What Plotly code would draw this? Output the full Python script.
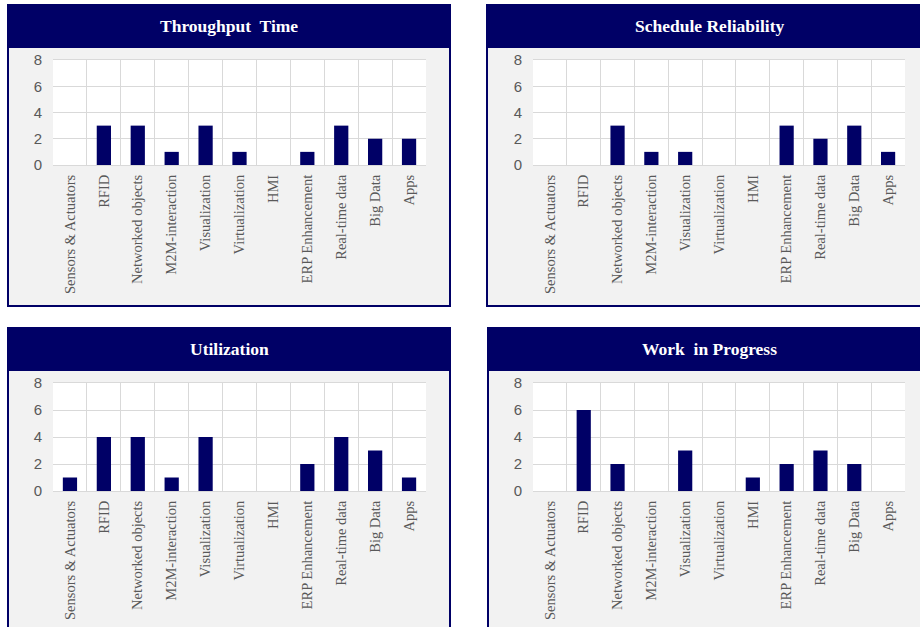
import plotly.graph_objects as go

categories = ["Sensors & Actuators", "RFID", "Networked objects", "M2M-interaction",
              "Visualization", "Virtualization", "HMI", "ERP Enhancement",
              "Real-time data", "Big Data", "Apps"]
throughput_time = [0, 3, 3, 1, 3, 1, 0, 1, 3, 2, 2]
schedule_reliability = [0, 0, 3, 1, 1, 0, 0, 3, 2, 3, 1]
utilization = [1, 4, 4, 1, 4, 0, 0, 2, 4, 3, 1]
work_in_progress = [0, 6, 2, 0, 3, 0, 1, 2, 3, 2, 0]
titles = ["Throughput  Time", "Schedule Reliability", "Utilization", "Work  in Progress"]
series = [throughput_time, schedule_reliability, utilization, work_in_progress]
y_ticks = [0, 2, 4, 6, 8]

W, H = 920, 627
NAVY = "#000066"
px = lambda x: x / W
py = lambda y: 1 - y / H

# panel geometry in pixels: (panel x0, x1, y0, y1, title bottom, plot x0, x1, plot y top, y bottom, title centre x)
panels = [
    (8, 450, 5, 306, 47, 53, 426, 60, 165, 229),
    (487, 930, 5, 306, 47, 533, 905, 60, 165, 709),
    (8, 450, 328, 650, 370, 53, 426, 383, 491, 229),
    (488, 930, 328, 650, 370, 533, 905, 383, 491, 709),
]

fig = go.Figure()
shapes = []
annotations = []
layout_axes = {}
for i, (p, vals, t) in enumerate(zip(panels, series, titles)):
    X0, X1, Y0, Y1, TB, PX0, PX1, PY0, PY1, TX = p
    n = i + 1
    xa = "x" if n == 1 else f"x{n}"
    ya = "y" if n == 1 else f"y{n}"
    shapes.append(dict(type="rect", xref="paper", yref="paper", layer="below",
                       x0=px(X0), x1=px(X1), y0=py(Y1), y1=py(Y0),
                       fillcolor="#f2f2f2", line=dict(color=NAVY, width=2)))
    shapes.append(dict(type="rect", xref="paper", yref="paper", layer="below",
                       x0=px(X0), x1=px(X1), y0=py(TB), y1=py(Y0),
                       fillcolor=NAVY, line=dict(color=NAVY, width=2)))
    shapes.append(dict(type="rect", xref="paper", yref="paper", layer="below",
                       x0=px(PX0), x1=px(PX1), y0=py(PY1), y1=py(PY0),
                       fillcolor="white", line=dict(width=0)))
    annotations.append(dict(text=f"<b>{t}</b>", xref="paper", yref="paper",
                            x=px(TX), y=py((Y0 + TB) / 2), showarrow=False,
                            font=dict(family="Liberation Serif", size=17.5, color="white"),
                            xanchor="center", yanchor="middle"))
    fig.add_trace(go.Bar(x=categories, y=vals, xaxis=xa, yaxis=ya,
                         marker=dict(color=NAVY, line=dict(width=0)),
                         width=0.42, showlegend=False, hoverinfo="x+y"))
    key = "" if n == 1 else str(n)
    layout_axes["xaxis" + key] = dict(
        domain=[px(PX0), px(PX1)], anchor=ya, type="category", automargin=False,
        tickson="boundaries", showgrid=True, gridcolor="#d9d9d9", gridwidth=1,
        showline=True, linecolor="#d9d9d9", mirror=True, ticks="",
        tickangle=-90, ticklabelstandoff=3,
        tickfont=dict(family="Liberation Serif", size=14.5, color="#595959"),
        fixedrange=True)
    layout_axes["yaxis" + key] = dict(
        domain=[py(PY1), py(PY0)], anchor=xa, range=[0, 8], tickvals=y_ticks,
        automargin=False,
        showgrid=True, gridcolor="#d9d9d9", gridwidth=1, zeroline=False,
        showline=False, ticks="", ticklabelstandoff=10,
        tickfont=dict(family="Liberation Sans", size=15, color="#595959"),
        fixedrange=True)

fig.update_layout(width=W, height=H, margin=dict(l=0, r=0, t=0, b=0, autoexpand=False),
                  paper_bgcolor="white", plot_bgcolor="rgba(0,0,0,0)",
                  shapes=shapes, annotations=annotations,
                  **layout_axes)
fig.write_html(
    "out.html", config={"displayModeBar": False},
    post_script=("document.body.style.margin='0';document.body.style.padding='0';"
                 "var gd=document.getElementById('{plot_id}');"
                 "gd.style.position='fixed';gd.style.top='0px';gd.style.left='0px';"))
